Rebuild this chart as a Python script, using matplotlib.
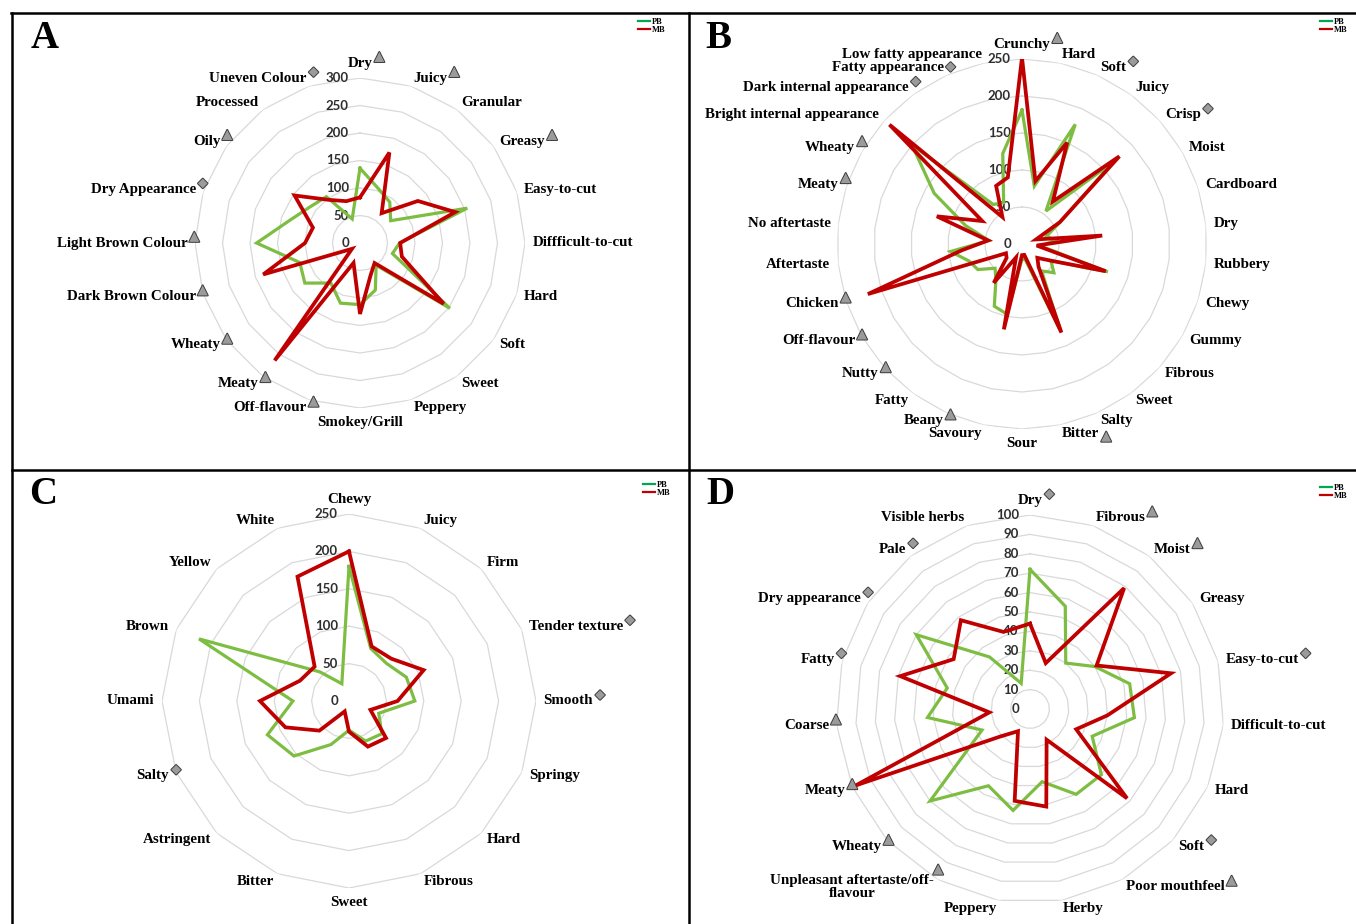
import numpy as np
import matplotlib
matplotlib.use("Agg")
import matplotlib.pyplot as plt
from matplotlib.lines import Line2D
import matplotlib.patheffects as pe

# ---------------- data ----------------
A_cats = ["Dry", "Juicy", "Granular", "Greasy", "Easy-to-cut", "Diffficult-to-cut",
          "Hard", "Soft", "Sweet", "Peppery", "Smokey/Grill", "Off-flavour", "Meaty",
          "Wheaty", "Dark Brown Colour", "Light Brown Colour", "Dry Appearance", "Oily",
          "Processed", "Uneven Colour"]
A_pb = [136, 105, 92, 69, 205, 72, 62, 202, 50, 90, 112, 115, 90, 124, 115, 188, 134, 112, 104, 46]
A_mb = [83, 173, 67, 130, 182, 73, 80, 188, 45, 62, 129, 38, 264, 18, 185, 100, 90, 147, 97, 80]
A_marks = {"Dry": "t", "Juicy": "t", "Greasy": "t", "Uneven Colour": "d", "Oily": "t",
           "Dry Appearance": "d", "Light Brown Colour": "t", "Dark Brown Colour": "t",
           "Wheaty": "t", "Meaty": "t", "Off-flavour": "t"}

B_cats = ["Crunchy", "Hard", "Soft", "Juicy", "Crisp", "Moist", "Cardboard", "Dry",
          "Rubbery", "Chewy", "Gummy", "Fibrous", "Sweet", "Salty", "Bitter", "Sour",
          "Savoury", "Beany", "Fatty", "Nutty", "Off-flavour", "Chicken", "Aftertaste",
          "No aftertaste", "Meaty", "Wheaty", "Bright internal appearance",
          "Dark internal appearance", "Fatty appearance", "Low fatty appearance"]
B_pb = [181, 80, 177, 55, 165, 60, 35, 45, 25, 122, 45, 58, 45, 128, 22, 20, 97, 92, 60, 49,
        69, 75, 97, 45, 80, 137, 200, 66, 61, 125]
B_mb = [252, 87, 150, 71, 177, 59, 20, 109, 20, 119, 45, 28, 38, 131, 15, 15, 118, 20, 65, 28,
        25, 219, 82, 46, 121, 62, 241, 45, 86, 92]
B_marks = {"Crunchy": "t", "Soft": "d", "Crisp": "d", "Fatty appearance": "d",
           "Dark internal appearance": "d", "Wheaty": "t", "Meaty": "t", "Chicken": "t",
           "Off-flavour": "t", "Nutty": "t", "Beany": "t", "Bitter": "t"}

C_cats = ["Chewy", "Juicy", "Firm", "Tender texture", "Smooth", "Springy", "Hard",
          "Fibrous", "Sweet", "Bitter", "Astringent", "Salty", "Umami", "Brown",
          "Yellow", "White"]
C_pb = [180, 76, 71, 83, 88, 43, 62, 58, 39, 63, 104, 118, 75, 217, 55, 25]
C_mb = [200, 79, 80, 108, 65, 31, 70, 66, 41, 15, 56, 92, 119, 71, 65, 180]
C_marks = {"Tender texture": "d", "Smooth": "d", "Salty": "d"}

D_cats = ["Dry", "Fibrous", "Moist", "Greasy", "Easy-to-cut", "Difficult-to-cut", "Hard",
          "Soft", "Poor mouthfeel", "Herby", "Peppery",
          "Unpleasant aftertaste/off-\nflavour", "Wheaty", "Meaty", "Coarse", "Fatty",
          "Dry appearance", "Pale", "Visible herbs"]
D_pb = [72, 56, 30, 40, 53, 54, 35, 50, 50, 38, 53, 45, 70, 27, 53, 44, 70, 34, 14]
D_mb = [44, 25, 79, 41, 75, 40, 26, 68, 18, 51, 48, 13, 21, 98, 21, 69, 47, 58, 42]
D_marks = {"Dry": "d", "Fibrous": "t", "Moist": "t", "Easy-to-cut": "d", "Soft": "d",
           "Poor mouthfeel": "t", "Unpleasant aftertaste/off-\nflavour": "t",
           "Wheaty": "t", "Meaty": "t", "Coarse": "t", "Fatty": "d",
           "Dry appearance": "d", "Pale": "d"}

series_names = ["PB", "MB"]

# ---------------- styling ----------------
W, H = 1356, 924
GREEN = "#7dbd42"
GREEN_KEY = "#00a651"
RED = "#c00000"
GRID = "#d9d9d9"
SERIF = ["Liberation Serif", "DejaVu Serif"]

fig = plt.figure(figsize=(W / 100, H / 100), dpi=100)


def radar(cx, cy, R, rmax, step, cats, pb, mb, marks, letter, letter_xy, legend_xy,
          mark_offsets=None):
    mark_offsets = mark_offsets or {}
    ax = fig.add_axes([(cx - R) / W, (H - cy - R) / H, 2 * R / W, 2 * R / H],
                      projection="polar")
    ax.set_theta_zero_location("N")
    ax.set_theta_direction(-1)
    ax.set_ylim(0, rmax)
    ax.set_axis_off()

    n = len(cats)
    theta = np.arange(n) * 2 * np.pi / n
    closed = np.append(theta, theta[0])

    # polygon gridlines
    for v in np.arange(step, rmax + step / 2, step):
        ax.plot(closed, np.full(n + 1, v), color=GRID, lw=0.9, zorder=1)

    # radial value labels
    for v in np.arange(0, rmax + step / 2, step):
        ax.annotate(f"{int(v)}", xy=(0, v), xytext=(-8, 0), textcoords="offset points",
                    ha="right", va="center", fontsize=9.5, color="#2e2e2e",
                    family=["Lato", "DejaVu Sans"], fontweight="bold", zorder=2)

    # series
    ax.plot(closed, np.append(pb, pb[0]), color=GREEN, lw=2.3, zorder=3,
            solid_joinstyle="miter")
    ax.plot(closed, np.append(mb, mb[0]), color=RED, lw=2.7, zorder=4,
            solid_joinstyle="miter")

    # category labels
    for t, lab in zip(theta, cats):
        s, c = np.sin(t), np.cos(t)
        ha = "left" if s > 0.05 else ("right" if s < -0.05 else "center")
        va = "bottom" if c > 0.99 else ("top" if c < -0.99 else "center")
        txt = ax.annotate(lab, xy=(t, rmax), xytext=(5.5 * s, 6 * c),
                          textcoords="offset points", ha=ha, va=va, fontsize=10.8,
                          fontweight="bold", family=SERIF, multialignment="center",
                          linespacing=1.05, annotation_clip=False)
        if lab in marks:
            tri = marks[lab] == "t"
            glyph = "\u25B2" if tri else "\u25C6"
            multi = "\n" in lab
            offset = mark_offsets.get(lab, (3, 3) if multi else (5, 4.5))
            ax.annotate(glyph, xy=(1, 1 if multi else 0.5), xycoords=txt,
                        xytext=offset, textcoords="offset points",
                        ha="center", va="center", fontsize=9.5 if tri else 9,
                        color="#9b9b9b", family="DejaVu Sans", annotation_clip=False,
                        path_effects=[pe.withStroke(linewidth=1.4, foreground="#3c3c3c")])

    fig.text(letter_xy[0] / W, 1 - letter_xy[1] / H, letter, fontsize=28,
             fontweight="bold", family=SERIF, ha="center", va="center")

    handles = [Line2D([], [], color=GREEN_KEY, lw=1.6), Line2D([], [], color=RED, lw=1.6)]
    fig.legend(handles, series_names, loc="upper left",
               bbox_to_anchor=(legend_xy[0] / W, 1 - legend_xy[1] / H),
               frameon=False, handlelength=1.4, handletextpad=0.2, labelspacing=0.0,
               borderpad=0, borderaxespad=0,
               prop={"family": SERIF, "size": 6, "weight": "bold"})
    return ax


radar(360, 243, 165, 300, 50, A_cats, A_pb, A_mb, A_marks, "A", (45, 38), (638, 18))
radar(1022, 244, 185, 250, 50, B_cats, B_pb, B_mb, B_marks, "B", (718, 38), (1320, 18),
      mark_offsets={"Fatty appearance": (5, 0.5), "Bitter": (5, -2.5)})
radar(349, 701, 187, 250, 50, C_cats, C_pb, C_mb, C_marks, "C", (43, 494), (643, 481))
radar(1030, 709, 194, 100, 10, D_cats, D_pb, D_mb, D_marks, "D", (720, 494), (1320, 484))

# panel frame
frame = [((11, 13), (W, 13)), ((12, 13), (12, H)), ((689, 13), (689, H)),
         ((12, 470), (W, 470))]
for (x0, y0), (x1, y1) in frame:
    fig.add_artist(Line2D([x0 / W, x1 / W], [1 - y0 / H, 1 - y1 / H], color="black",
                          lw=1.8, transform=fig.transFigure))

fig.savefig("out.png", dpi=100, facecolor="white")
